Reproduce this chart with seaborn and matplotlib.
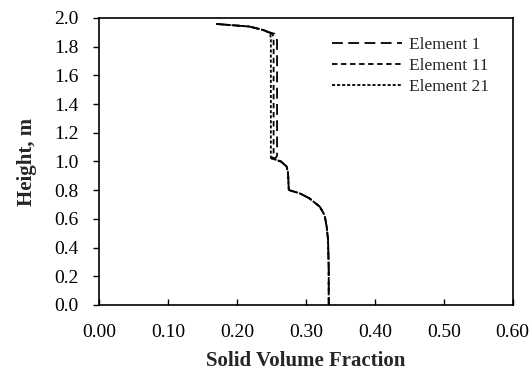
import matplotlib
matplotlib.use('Agg')
import matplotlib.pyplot as plt
import seaborn as sns

# Solid volume fraction (x) against height (y)
e1_x = [0.170, 0.218, 0.238, 0.247, 0.254, 0.257, 0.258, 0.258, 0.256, 0.250, 0.264, 0.272, 0.274,
        0.275, 0.291, 0.305, 0.320, 0.327, 0.330, 0.332, 0.333, 0.333]
e1_y = [1.958, 1.940, 1.916, 1.900, 1.890, 1.870, 1.840, 1.040, 1.025, 1.022, 0.999, 0.964, 0.918,
        0.801, 0.778, 0.743, 0.685, 0.627, 0.546, 0.453, 0.250, 0.000]

e11_x = [0.170, 0.218, 0.238, 0.246, 0.251, 0.253, 0.253, 0.253, 0.250, 0.264, 0.272, 0.274,
         0.275, 0.291, 0.305, 0.320, 0.327, 0.330, 0.332, 0.333, 0.333]
e11_y = [1.958, 1.940, 1.916, 1.900, 1.888, 1.865, 1.840, 1.035, 1.022, 0.999, 0.964, 0.918,
         0.801, 0.778, 0.743, 0.685, 0.627, 0.546, 0.453, 0.250, 0.000]

e21_x = [0.170, 0.218, 0.238, 0.245, 0.248, 0.249, 0.249, 0.250, 0.264, 0.272, 0.274,
         0.275, 0.291, 0.305, 0.320, 0.327, 0.330, 0.332, 0.333, 0.333]
e21_y = [1.958, 1.940, 1.916, 1.900, 1.885, 1.860, 1.030, 1.022, 0.999, 0.964, 0.918,
         0.801, 0.778, 0.743, 0.685, 0.627, 0.546, 0.453, 0.250, 0.000]

labels = ['Element 1', 'Element 11', 'Element 21']
x_ticks = [0.0, 0.1, 0.2, 0.3, 0.4, 0.5, 0.6]
y_ticks = [0.0, 0.2, 0.4, 0.6, 0.8, 1.0, 1.2, 1.4, 1.6, 1.8, 2.0]

sns.set_theme(style='ticks')
plt.rcParams['font.family'] = ['Liberation Serif', 'DejaVu Serif']
plt.rcParams['font.size'] = 13

fig = plt.figure(figsize=(5.31, 3.74), dpi=100)
ax = fig.add_axes([0.187, 0.1845, 0.7785, 0.7675])

series = [(e1_x, e1_y, (6, 3)), (e11_x, e11_y, (3, 2)), (e21_x, e21_y, (1.7, 1.1))]
for (xs, ys, dash), lab in zip(series, labels):
    sns.lineplot(x=xs, y=ys, sort=False, estimator=None, color='black',
                 linewidth=1.3, ax=ax, label=lab)
    ax.lines[-1].set_dashes(dash)

ax.set_xlim(0, 0.6)
ax.set_ylim(0, 2.0)
ax.set_xticks(x_ticks)
ax.set_xticklabels([f'{v:.2f}' for v in x_ticks])
ax.set_yticks(y_ticks)
ax.set_yticklabels([f'{v:.1f}' for v in y_ticks])
ax.tick_params(axis='x', direction='in', length=4, width=1, labelsize=14, pad=14, colors='black')
ax.tick_params(axis='y', direction='out', length=4, width=1, labelsize=14, pad=11, colors='black')
for s in ax.spines.values():
    s.set_linewidth(1.2)
    s.set_color('black')

ax.set_xlabel('Solid Volume Fraction', fontweight='bold', fontsize=15, labelpad=7)
ax.set_ylabel('Height, m', fontweight='bold', fontsize=15, labelpad=12)

ax.legend(loc='upper right', bbox_to_anchor=(0.98, 0.99), frameon=False, handlelength=4,
          labelspacing=0.3, handletextpad=0.4, fontsize=12.5)

fig.savefig('out.png', dpi=100)
